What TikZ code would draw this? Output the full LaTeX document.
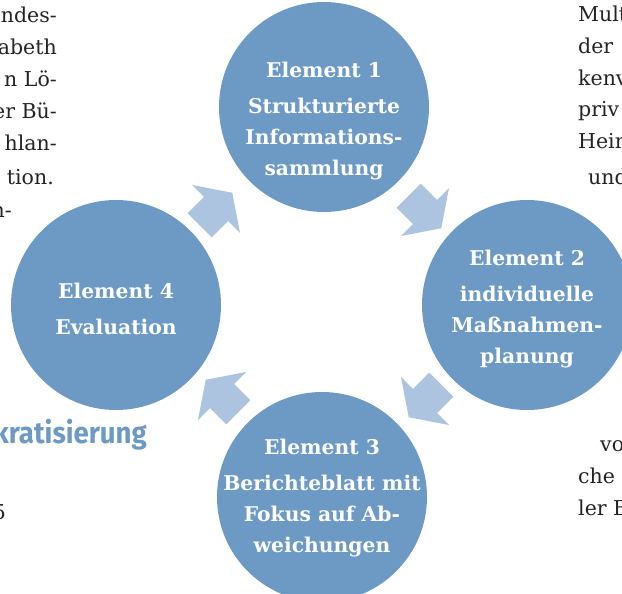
\documentclass[tikz,border=0pt]{standalone}
\usepackage{fontspec}
\setmainfont{DejaVu Serif}
\newfontfamily\headfont{Fira Sans}
\definecolor{circ}{RGB}{108,154,196}
\definecolor{arr}{RGB}{173,196,224}
\definecolor{bodytxt}{RGB}{35,35,35}
\begin{document}
\begin{tikzpicture}[x=1pt,y=-1pt,
  elem/.style={circle,fill=circ,minimum size=210pt,inner sep=0pt},
  elemtxt/.style={text=white,font=\bfseries\fontsize{20.3}{31}\selectfont,align=center,inner sep=0pt},
  frag/.style={text=bodytxt,font=\fontsize{20.5}{31}\selectfont,inner sep=0pt},
  head/.style={text=circ,font=\headfont\bfseries\fontsize{30}{32}\selectfont,inner sep=0pt,xscale=0.92},
  blockarrow/.pic={\fill[arr] (-23,-17) -- (0,-17) -- (0,-34) -- (23,0) -- (0,34) -- (0,17) -- (-23,17) -- cycle;}
]
\useasboundingbox (0,0) rectangle (622,594);
\clip (0,0) rectangle (622,594);
% text fragments of the page behind
\node[frag,anchor=base east] (l1) at (57,23) {ndes-};
\node[frag,anchor=base east] (l2) at (57,55) {abeth};
\node[frag,anchor=base east] (l3) at (57,87) {n Lö-};
\node[frag,anchor=base east] (l4) at (57,118) {er Bü-};
\node[frag,anchor=base east] (l5) at (57,150) {hlan-};
\node[frag,anchor=base east] (l6) at (54,184) {tion.};
\node[frag,anchor=base east] (l7) at (12,217) {n-};
\node[frag,anchor=base west] (r1) at (578,22) {Mult};
\node[frag,anchor=base west] (r2) at (578,54) {der};
\node[frag,anchor=base west] (r3) at (578,86) {kenv};
\node[frag,anchor=base west] (r4) at (578,117) {priv};
\node[frag,anchor=base west] (r5) at (578,149) {Hein};
\node[frag,anchor=base west] (r6) at (588,184) {und};
\node[frag,anchor=base west] (r7) at (600,451) {vo};
\node[frag,anchor=base west] (r8) at (578,483) {che};
\node[frag,anchor=base west] (r9) at (578,515) {ler B};
\node[frag,anchor=base east] (l8) at (6,519) {5};
\node[head,anchor=base east] (h1) at (147,443) {kratisierung};
% circles
\node[elem] (e1) at (324,107) {};
\node[elem] (e2) at (527,305) {};
\node[elem] (e3) at (322,497) {};
\node[elem] (e4) at (116,305) {};
\node[elemtxt] (t1) at (324,121) {Element 1\\[5pt]Strukturierte\\Informations-\\sammlung};
\node[elemtxt] (t2) at (527,309) {Element 2\\[5pt]individuelle\\Maßnahmen-\\planung};
\node[elemtxt] (t3) at (322,498) {Element 3\\[5pt]Berichteblatt mit\\Fokus auf Ab-\\weichungen};
\node[elemtxt] (t4) at (116,309) {Element 4\\[5pt]Evaluation};
% arrows
\pic[rotate=45] (a1) at (216,209) {blockarrow};
\pic[rotate=-45] (a2) at (425,212) {blockarrow};
\pic[rotate=-135] (a3) at (425,401) {blockarrow};
\pic[rotate=135] (a4) at (222,396) {blockarrow};
\end{tikzpicture}
\end{document}
